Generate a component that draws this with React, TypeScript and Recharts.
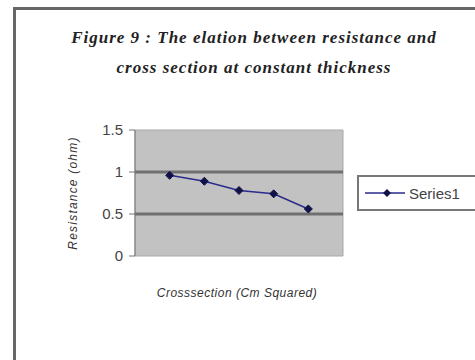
import React from "react";
import {
  Legend,
  Line,
  LineChart,
  ReferenceArea,
  ReferenceLine,
  XAxis,
  YAxis,
} from "recharts";

// cross-section steps and measured resistance
const sections = [1, 2, 3, 4, 5];
const resistance = [0.96, 0.89, 0.78, 0.74, 0.56];
const yTicks = [0, 0.5, 1, 1.5];
const gridValues = [0.5, 1];

const data = sections.map((s, i) => ({ section: s, value: resistance[i] }));

const LINE = "#2b2b8c";
const MARK = "#12124a";

const Diamond = (props: any) => {
  const { cx, cy } = props;
  if (cx == null || cy == null) return null;
  const r = 4;
  return (
    <polygon
      points={`${cx},${cy - r} ${cx + r},${cy} ${cx},${cy + r} ${cx - r},${cy}`}
      fill={MARK}
      stroke={MARK}
    />
  );
};

const LegendBox = () => (
  <div
    style={{
      width: 130,
      height: 36,
      border: "2px solid #777",
      background: "#fff",
      display: "flex",
      alignItems: "center",
      boxSizing: "border-box",
      paddingLeft: 6,
      fontFamily: "'Liberation Sans', Arial, sans-serif",
      fontSize: 15,
      color: "#444",
    }}
  >
    <svg width={40} height={12} style={{ marginRight: 4 }}>
      <line x1={0} y1={6} x2={40} y2={6} stroke={LINE} strokeWidth={1.5} />
      <polygon points="22,2 26,6 22,10 18,6" fill={MARK} />
    </svg>
    Series1
  </div>
);

export default function App() {
  return (
    <div
      style={{
        position: "fixed",
        left: 0,
        top: 0,
        width: 475,
        height: 360,
        background: "#fff",
        overflow: "hidden",
      }}
    >
      <div
        style={{
          position: "absolute",
          left: 13,
          top: 7,
          width: 500,
          height: 400,
          borderLeft: "3px solid #666",
          borderTop: "3px solid #666",
        }}
      />
      <div
        style={{
          position: "absolute",
          left: 14,
          width: 480,
          top: 23,
          textAlign: "center",
          fontFamily: "'Liberation Serif', 'Times New Roman', serif",
          fontStyle: "italic",
          fontWeight: "bold",
          fontSize: 17,
          letterSpacing: 1,
          lineHeight: "30px",
          color: "#222",
        }}
      >
        <div>Figure 9 : The elation between resistance and</div>
        <div>cross section at constant thickness</div>
      </div>
      <div style={{ position: "absolute", left: 0, top: 0 }}>
        <LineChart
          width={475}
          height={360}
          data={data}
          margin={{ left: 75, right: 132, top: 130, bottom: 104 }}
        >
          <XAxis dataKey="section" type="number" domain={[0, 6]} hide />
          <YAxis
            width={60}
            domain={[0, 1.5]}
            ticks={yTicks}
            tickSize={6}
            tickMargin={6}
            axisLine={{ stroke: "#777" }}
            tickLine={{ stroke: "#777" }}
            tick={{
              fontSize: 15,
              fill: "#444",
              fontFamily: "'Liberation Sans', Arial, sans-serif",
            }}
            label={{
              value: "Resistance (ohm)",
              angle: -90,
              position: "insideLeft",
              offset: -2,
              style: {
                fontSize: 12,
                letterSpacing: 1.2,
                fontStyle: "italic",
                fill: "#333",
                textAnchor: "middle",
                fontFamily: "'Liberation Sans', Arial, sans-serif",
              },
            }}
          />
          <ReferenceArea
            x1={0}
            x2={6}
            y1={0}
            y2={1.5}
            fill="#c2c2c2"
            fillOpacity={1}
            stroke="#a8a8a8"
          />
          {gridValues.map((v) => (
            <ReferenceLine key={v} y={v} stroke="#6f6f6f" strokeWidth={3} />
          ))}
          <Line
            dataKey="value"
            stroke={LINE}
            strokeWidth={1.5}
            dot={<Diamond />}
            activeDot={false}
            isAnimationActive={false}
          />
          <Legend
            layout="vertical"
            align="center"
            verticalAlign="middle"
            content={() => <LegendBox />}
            wrapperStyle={{ position: "absolute", left: 357, top: 175, width: 130 }}
          />
        </LineChart>
      </div>
      <div
        style={{
          position: "absolute",
          left: 137,
          width: 200,
          top: 286,
          textAlign: "center",
          fontFamily: "'Liberation Sans', Arial, sans-serif",
          fontStyle: "italic",
          fontSize: 12,
          letterSpacing: 0.5,
          color: "#333",
        }}
      >
        Crosssection (Cm Squared)
      </div>
    </div>
  );
}
